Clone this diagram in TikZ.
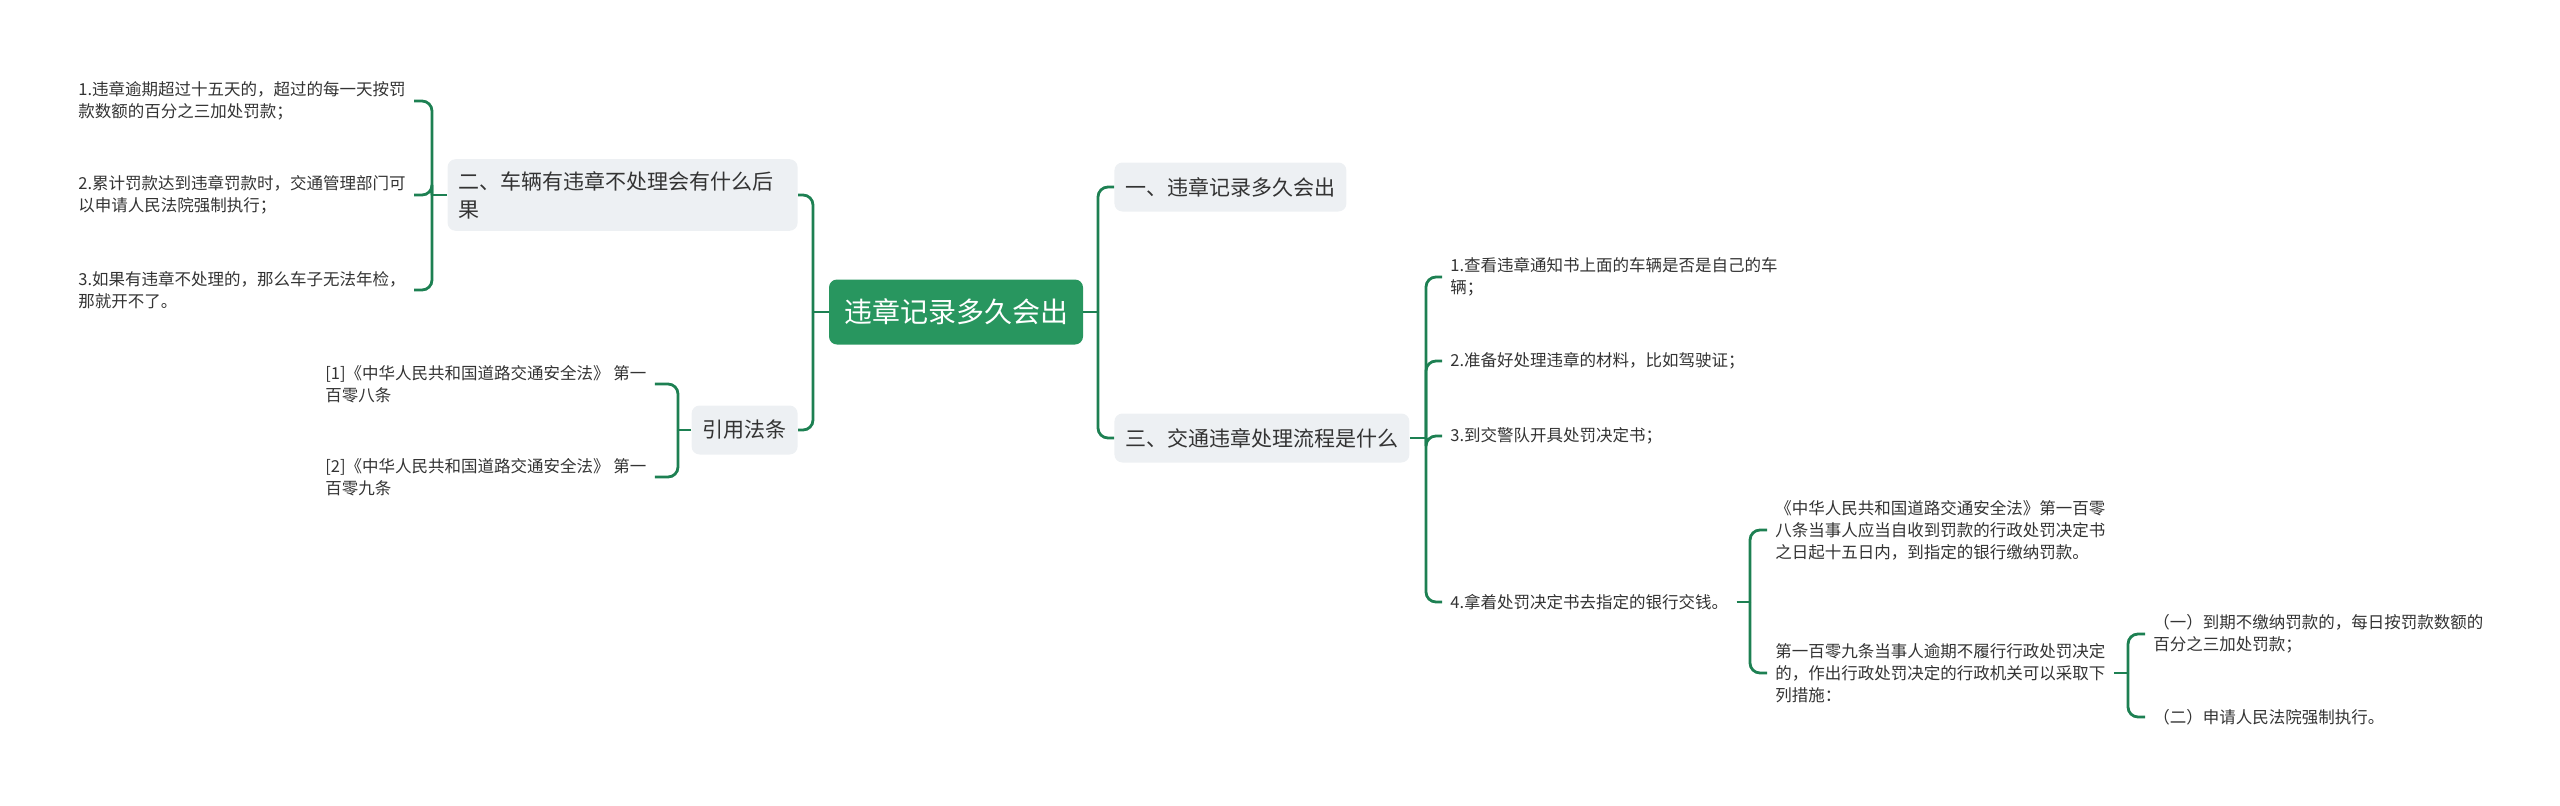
\documentclass[tikz,border=0pt]{standalone}
\usepackage{fontspec}
\setmainfont{Noto Sans CJK SC}
\usetikzlibrary{positioning}
\definecolor{mGreen}{HTML}{28965F}
\definecolor{mLine}{HTML}{1D8052}
\definecolor{mBox}{HTML}{EDF0F3}
\definecolor{mText}{HTML}{333333}

\begin{document}
\begin{tikzpicture}[x=0.5pt, y=-0.5pt,
      root/.style={fill=mGreen, text=white, rounded corners=4pt, font=\fontsize{14pt}{18pt}\selectfont, minimum height=32.5pt, inner xsep=7.5pt},
      topic/.style={fill=mBox, text=mText, rounded corners=4pt, font=\fontsize{10.5pt}{14pt}\selectfont, minimum height=24.5pt, inner xsep=5.5pt, inner ysep=6pt, align=left},
      leaf/.style={text=mText, font=\fontsize{8.25pt}{11pt}\selectfont, inner xsep=4pt, inner ysep=2pt, align=left, anchor=west},
      link/.style={draw=mLine, line width=1.4pt, rounded corners=5pt}]
    \useasboundingbox (0,0) rectangle (2560,805);
    \node[root] (root) at (956,312) {违章记录多久会出};
    \node[topic, anchor=west] (b1) at (1114,187) {一、违章记录多久会出};
    \node[topic, anchor=west] (b3) at (1114,438) {三、交通违章处理流程是什么};
    \node[topic, anchor=east, text width=164pt] (b2) at (798,195) {二、车辆有违章不处理会有什么后\\果};
    \node[topic, anchor=east] (b4) at (798,430) {引用法条};
    \node[leaf] (c1) at (1442,277) {1.查看违章通知书上面的车辆是否是自己的车\\辆；};
    \node[leaf] (c2) at (1442,361) {2.准备好处理违章的材料，比如驾驶证；};
    \node[leaf] (c3) at (1442,436) {3.到交警队开具处罚决定书；};
    \node[leaf] (c4) at (1442,602) {4.拿着处罚决定书去指定的银行交钱。};
    \node[leaf] (d1) at (1767,530) {《中华人民共和国道路交通安全法》第一百零\\八条当事人应当自收到罚款的行政处罚决定书\\之日起十五日内，到指定的银行缴纳罚款。};
    \node[leaf] (d2) at (1767,673) {第一百零九条当事人逾期不履行行政处罚决定\\的，作出行政处罚决定的行政机关可以采取下\\列措施：};
    \node[leaf] (e1) at (2145,634) {（一）到期不缴纳罚款的，每日按罚款数额的\\百分之三加处罚款；};
    \node[leaf] (e2) at (2145,717) {（二）申请人民法院强制执行。};
    \node[leaf] (a1) at (70,101) {1.违章逾期超过十五天的，超过的每一天按罚\\款数额的百分之三加处罚款；};
    \node[leaf] (a2) at (70,195) {2.累计罚款达到违章罚款时，交通管理部门可\\以申请人民法院强制执行；};
    \node[leaf] (a3) at (70,290) {3.如果有违章不处理的，那么车子无法年检，\\那就开不了。};
    \node[leaf] (r1) at (317,384) {[1]《中华人民共和国道路交通安全法》 第一\\百零八条};
    \node[leaf] (r2) at (317,477) {[2]《中华人民共和国道路交通安全法》 第一\\百零九条};
    \coordinate (jr) at (1098,312); \coordinate (jl) at (813,312);
    \coordinate (j3) at (1426,438); \coordinate (j4) at (1750,602); \coordinate (j5) at (2128,673);
    \coordinate (j2) at (432,195); \coordinate (j6) at (678,430);
    \draw[link] (root.east) -- (jr); \draw[link] (jr) |- (b1.west); \draw[link] (jr) |- (b3.west);
    \draw[link] (root.west) -- (jl); \draw[link] (jl) |- (b2.east); \draw[link] (jl) |- (b4.east);
    \draw[link] (b3.east) -- (j3); \draw[link] (j3) |- (c1.west); \draw[link] (j3) |- (c2.west);
    \draw[link] (j3) |- (c3.west); \draw[link] (j3) |- (c4.west);
    \draw[link] (c4.east) -- (j4); \draw[link] (j4) |- (d1.west); \draw[link] (j4) |- (d2.west);
    \draw[link] (d2.east) -- (j5); \draw[link] (j5) |- (e1.west); \draw[link] (j5) |- (e2.west);
    \draw[link] (b2.west) -- (j2); \draw[link] (j2) |- (a1.east); \draw[link] (j2) |- (a2.east); \draw[link] (j2) |- (a3.east);
    \draw[link] (b4.west) -- (j6); \draw[link] (j6) |- (r1.east); \draw[link] (j6) |- (r2.east);
  \end{tikzpicture}
\end{document}
